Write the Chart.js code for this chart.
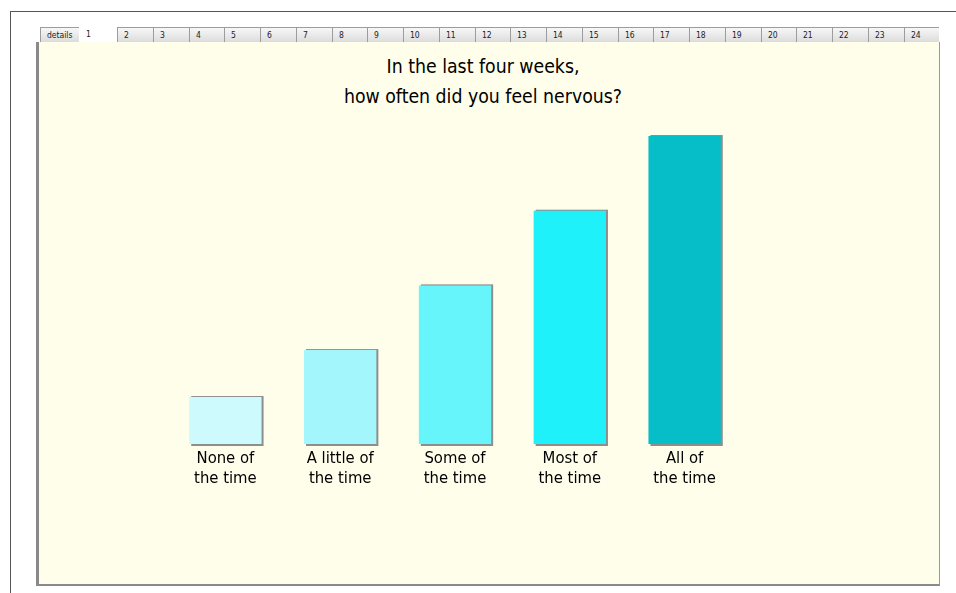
<!DOCTYPE html>
<html>
<head>
<meta charset="utf-8">
<script src="https://cdn.jsdelivr.net/npm/chart.js@4"></script>
<style>
  body { margin: 0; background: #fff; width: 956px; height: 593px; overflow: hidden; position: relative; font-family: "DejaVu Sans Condensed", "DejaVu Sans", sans-serif; }
  #frameTop { position: absolute; left: 10px; top: 11px; width: 946px; border-top: 1px solid #555; }
  #frameLeft { position: absolute; left: 10px; top: 11px; height: 582px; border-left: 1px solid #555; }
  #tabs { position: absolute; left: 40px; top: 27px; height: 15px; width: 900px; }
  .tab { position: absolute; top: 0; height: 15px; border: 1px solid #9c9c9c; border-bottom: none; border-right: none; box-sizing: border-box;
         background: linear-gradient(#f7f7f7, #dcdcdc); font-size: 8.5px; line-height: 14px; padding-left: 6px; color: #222; }
  .tab.sel { background: #fff; border-color: #fff; top: -1px; height: 16px; }
  #panel { position: absolute; left: 36px; top: 42px; width: 904px; height: 544px; background: #fffeea; box-sizing: border-box;
           border-left: 3px solid #8a8a8a; border-bottom: 2px solid #8a8a8a; border-right: 1px solid #9a9a9a; }
  #titulo { position: absolute; left: 283px; width: 400px; top: 52px; text-align: center; font-size: 19.3px; line-height: 30px; color: #000; }
  #wrap { position: absolute; left: 39px; top: 43px; width: 899px; height: 541px; }
</style>
</head>
<body>
<div id="frameTop"></div>
<div id="frameLeft"></div>
<div id="panel"></div>
<div id="tabs"></div>
<div id="titulo"></div>
<div id="wrap"><canvas id="grafica"></canvas></div>
<script>
var titulo = ["In the last four weeks,", "how often did you feel nervous?"];
var categorias = [
  ["None of", "the time"],
  ["A little of", "the time"],
  ["Some of", "the time"],
  ["Most of", "the time"],
  ["All of", "the time"]
];
var valores = [6.1, 12.2, 20.6, 30.3, 40];
var colores = ["#ccfafd", "#a3f7fc", "#66f5fb", "#1ef1f9", "#06bec8"];
var pestanas = ["details", "1", "2", "3", "4", "5", "6", "7", "8", "9", "10", "11", "12",
  "13", "14", "15", "16", "17", "18", "19", "20", "21", "22", "23", "24"];

// titulo (centrado sobre el panel, no sobre el area de la grafica)
document.getElementById("titulo").innerHTML = titulo.join("<br>");

// pestañas de arriba
var tabs = document.getElementById("tabs");
pestanas.forEach(function (t, i) {
  var d = document.createElement("div");
  d.className = "tab" + (t === "1" ? " sel" : "");
  var left, w;
  if (i === 0) { left = 0; w = 39; }
  else if (i === 1) { left = 39; w = 38; }
  else { left = Math.round(77 + (i - 2) * 35.75); w = Math.round(77 + (i - 1) * 35.75) - left; }
  d.style.left = left + "px";
  d.style.width = w + "px";
  d.textContent = t;
  tabs.appendChild(d);
});

// sombra gris de las barras
var sombra = {
  id: "sombra",
  beforeDatasetsDraw: function (chart) {
    var ctx = chart.ctx;
    ctx.save();
    ctx.fillStyle = "#8e8e8e";
    chart.getDatasetMeta(0).data.forEach(function (bar) {
      var p = bar.getProps(["x", "y", "base", "width"], true);
      ctx.fillRect(p.x - p.width / 2 + 2, p.y - 1, p.width, p.base - p.y + 3);
    });
    ctx.restore();
  }
};

var ctx = document.getElementById("grafica");
new Chart(ctx, {
  type: "bar",
  data: {
    labels: categorias,
    datasets: [
      {
        data: valores,
        backgroundColor: colores,
        borderWidth: 0,
        barPercentage: 0.63,
        categoryPercentage: 1,
      },
    ],
  },
  options: {
    responsive: true,
    maintainAspectRatio: false,
    animation: false,
    layout: { padding: { left: 129, right: 196, top: 93, bottom: 0 } },
    plugins: {
      legend: { display: false },
      tooltip: { enabled: false },
      title: { display: false },
    },
    scales: {
      x: {
        grid: { display: false },
        border: { display: false },
        ticks: {
          color: "#000",
          padding: -3,
          maxRotation: 0,
          font: { family: "'DejaVu Sans Condensed', 'DejaVu Sans', sans-serif", size: 16.5, lineHeight: 1.22 },
        },
        afterFit: function (scale) { scale.height = 140; },
      },
      y: { display: false, min: 0, max: 40 },
    },
  },
  plugins: [sombra],
});
</script>
</body>
</html>
